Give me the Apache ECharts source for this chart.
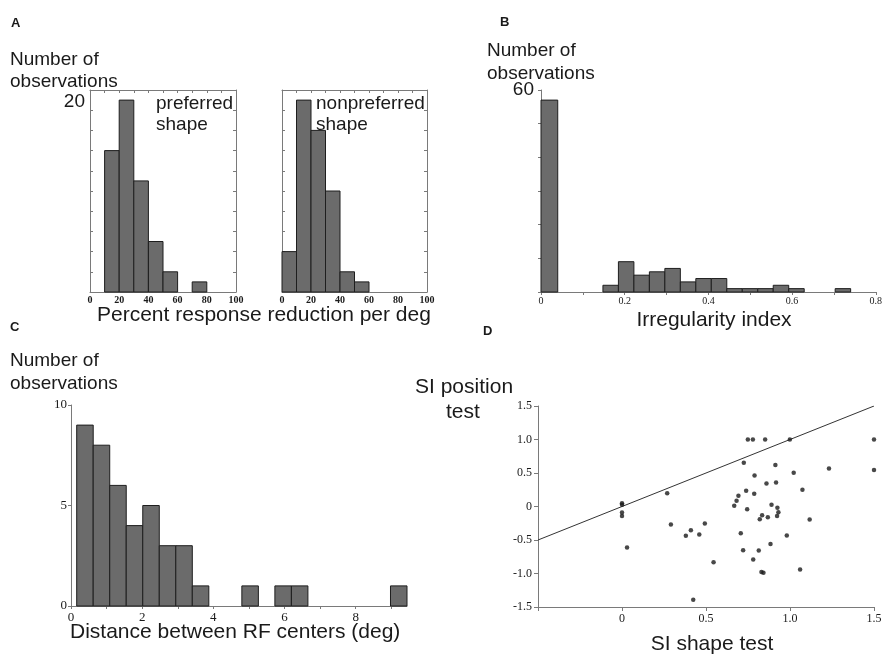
<!DOCTYPE html>
<html>
<head>
<meta charset="utf-8">
<script src="https://cdn.jsdelivr.net/npm/echarts@6/dist/echarts.min.js"></script>
<style>
  html, body { margin: 0; padding: 0; background: #ffffff; }
  #chart { width: 885px; height: 655px; }
</style>
</head>
<body>
<div id="chart"></div>
<script>
// ---- A: percent response reduction per degree (bins of 10 %) ----
const pctEdges = [0, 10, 20, 30, 40, 50, 60, 70, 80, 90, 100];
const preferredCounts = [0, 14, 19, 11, 5, 2, 0, 1, 0, 0];
const nonpreferredCounts = [4, 19, 16, 10, 2, 1, 0, 0, 0, 0];
const pctTickLabels = ['0', '20', '40', '60', '80', '100'];

// ---- B: irregularity index ----
const irregEdges = [0, 0.04, 0.074, 0.111, 0.148, 0.185, 0.222, 0.259, 0.296, 0.333, 0.370,
                    0.407, 0.444, 0.481, 0.518, 0.555, 0.592, 0.629, 0.666, 0.703, 0.740];
const irregCounts = [57, 0, 0, 0, 2, 9, 5, 6, 7, 3, 4, 4, 1, 1, 1, 2, 1, 0, 0, 1];

// ---- C: distance between RF centers (deg) ----
const distEdges = [0.16, 0.624, 1.088, 1.552, 2.016, 2.48, 2.944, 3.408, 3.872, 4.336, 4.8,
                   5.264, 5.728, 6.192, 6.656, 7.12, 7.584, 8.048, 8.512, 8.976, 9.44];
const distCounts = [9, 8, 6, 4, 5, 3, 3, 1, 0, 0, 1, 0, 1, 1, 0, 0, 0, 0, 0, 1];

// ---- D: SI shape test vs SI position test ----
const shapeTest = [0.749, 0.779, 0.852, 0.999, 1.5, 0.725, 0.913, 1.232, 1.5, 1.022,
                   0.789, 0.860, 0.917, 1.074, 0.739, 0.787, 0.269, 0.693, 0.682, 0.668,
                   0.745, 0.890, 0.925, 0.931, 0.923, 0.834, 0.820, 0.868, 1.117, 0,
                   0, 0, 0, 0.030, 0.291, 0.41, 0.38, 0.46, 0.493, 0.545,
                   0.424, 0.707, 0.721, 0.814, 0.884, 0.781, 0.981, 0.830, 0.842, 1.060];
const positionTest = [1, 1, 1, 1, 1, 0.653, 0.618, 0.568, 0.543, 0.503,
                      0.463, 0.344, 0.359, 0.249, 0.234, 0.189, 0.199, 0.159, 0.085, 0.01,
                      -0.04, 0.025, -0.02, -0.085, -0.14, -0.13, -0.19, -0.16, -0.194, 0.05,
                      0.025, -0.09, -0.14, -0.613, -0.269, -0.354, -0.438, -0.419, -0.254, -0.832,
                      -1.39, -0.399, -0.653, -0.658, -0.558, -0.792, -0.433, -0.977, -0.987, -0.942];
const identityLine = [[-0.5, -0.5], [1.5, 1.5]];

const SANS = 'Liberation Sans, Arial, sans-serif';
const SERIF = 'Liberation Serif, Times New Roman, serif';
const AXIS_COLOR = '#7a7a7a';
const TEXT_COLOR = '#1a1a1a';
const BAR_FILL = '#6b6b6b';
const BAR_EDGE = '#1e1e1e';

function histData(edges, counts) {
  return counts.map((n, i) => [edges[i], edges[i + 1], n]);
}

function histItem(params, api) {
  const n = api.value(2);
  if (!n) return null;
  const p0 = api.coord([api.value(0), n]);
  const p1 = api.coord([api.value(1), 0]);
  return {
    type: 'rect',
    shape: { x: p0[0], y: p0[1], width: p1[0] - p0[0], height: p1[1] - p0[1] },
    style: { fill: BAR_FILL, stroke: BAR_EDGE, lineWidth: 1 }
  };
}

function histSeries(axisIdx, edges, counts) {
  return {
    type: 'custom',
    xAxisIndex: axisIdx,
    yAxisIndex: axisIdx,
    renderItem: histItem,
    encode: { x: [0, 1], y: 2 },
    data: histData(edges, counts),
    silent: true,
    z: 2
  };
}

// axis lines stay on the grid edge, never on the other axis's zero
const line = { show: true, onZero: false, lineStyle: { color: AXIS_COLOR, width: 1 } };
const noSplit = { show: false };

function boxAxesA(gridIndex, showTopLabel) {
  const x = [
    {
      type: 'value', gridIndex, position: 'bottom', min: 0, max: 100, interval: 20,
      axisLine: line, axisTick: { show: false }, splitLine: noSplit,
      axisLabel: {
        margin: 3, fontFamily: SERIF, fontWeight: 'bold', fontSize: 10, color: TEXT_COLOR,
        formatter: v => pctTickLabels[Math.round(v / 20)]
      }
    },
    {
      type: 'value', gridIndex, position: 'top', min: 0, max: 100, interval: 10,
      axisLine: line, axisTick: { show: true, inside: true, length: 3, lineStyle: { color: AXIS_COLOR } },
      axisLabel: { show: false }, splitLine: noSplit
    }
  ];
  const y = [
    {
      type: 'value', gridIndex, position: 'left', min: 0, max: 20, interval: 2,
      axisLine: line, axisTick: { show: true, inside: true, length: 3, lineStyle: { color: AXIS_COLOR } },
      splitLine: noSplit,
      axisLabel: {
        show: showTopLabel, margin: 5, fontFamily: SANS, fontSize: 19, color: TEXT_COLOR,
        verticalAlign: 'top', padding: [2, 0, 0, 0],
        formatter: v => (v === 20 ? '20' : '')
      }
    },
    {
      type: 'value', gridIndex, position: 'right', min: 0, max: 20, interval: 2,
      axisLine: line, axisTick: { show: true, inside: true, length: 3, lineStyle: { color: AXIS_COLOR } },
      axisLabel: { show: false }, splitLine: noSplit
    }
  ];
  return { x, y };
}

const a1 = boxAxesA(0, true);
const a2 = boxAxesA(1, false);

const xAxes = [
  a1.x[0],                 // 0
  a2.x[0],                 // 1
  {                        // 2: B
    type: 'value', gridIndex: 2, min: 0, max: 0.8, interval: 0.1,
    axisLine: line, axisTick: { show: true, length: 3, lineStyle: { color: AXIS_COLOR } },
    splitLine: noSplit,
    axisLabel: {
      margin: 4, fontFamily: SERIF, fontSize: 10, color: TEXT_COLOR,
      formatter: v => {
        const k = Math.round(v * 10);
        if (k % 2 !== 0) return '';
        return k === 0 ? '0' : (k / 10).toFixed(1);
      }
    }
  },
  {                        // 3: C
    type: 'value', gridIndex: 3, min: 0, max: 9.44, interval: 1,
    axisLine: line, splitLine: noSplit,
    axisTick: { show: true, length: 3, customValues: [0, 1, 2, 3, 4, 5, 6, 7, 8, 9], lineStyle: { color: AXIS_COLOR } },
    axisLabel: {
      margin: 5, fontFamily: SERIF, fontSize: 13, color: TEXT_COLOR,
      customValues: [0, 2, 4, 6, 8],
      formatter: v => String(v)
    }
  },
  {                        // 4: D
    type: 'value', gridIndex: 4, min: -0.5, max: 1.5, interval: 0.5,
    axisLine: line, splitLine: noSplit,
    axisTick: { show: true, length: 4, lineStyle: { color: AXIS_COLOR } },
    axisLabel: {
      margin: 6, fontFamily: SERIF, fontSize: 12, color: TEXT_COLOR,
      formatter: v => (v < 0 ? '' : (v === 0 ? '0' : v.toFixed(1)))
    }
  },
  a1.x[1],                 // 5
  a2.x[1]                  // 6
];

const yAxes = [
  a1.y[0],                 // 0
  a2.y[0],                 // 1
  {                        // 2: B
    type: 'value', gridIndex: 2, min: 0, max: 60, interval: 10,
    axisLine: line, splitLine: noSplit,
    axisTick: { show: true, length: 3, lineStyle: { color: AXIS_COLOR } },
    axisLabel: {
      margin: 7, fontFamily: SANS, fontSize: 19, color: TEXT_COLOR,
      formatter: v => (v === 60 ? '60' : '')
    }
  },
  {                        // 3: C
    type: 'value', gridIndex: 3, min: 0, max: 10, interval: 5,
    axisLine: line, splitLine: noSplit,
    axisTick: { show: true, length: 3, lineStyle: { color: AXIS_COLOR } },
    axisLabel: { margin: 4, fontFamily: SERIF, fontSize: 13, color: TEXT_COLOR }
  },
  {                        // 4: D
    type: 'value', gridIndex: 4, min: -1.5, max: 1.5, interval: 0.5,
    axisLine: line, splitLine: noSplit,
    axisTick: { show: true, length: 4, lineStyle: { color: AXIS_COLOR } },
    axisLabel: {
      margin: 6, fontFamily: SERIF, fontSize: 12, color: TEXT_COLOR,
      formatter: v => (v === 0 ? '0' : v.toFixed(1))
    }
  },
  a1.y[1],                 // 5
  a2.y[1]                  // 6
];

function label(text, x, y, size) {
  return {
    type: 'text', x, y, silent: true,
    style: {
      text, fill: TEXT_COLOR, fontFamily: SANS, fontSize: size,
      verticalAlign: 'middle', align: 'left'
    }
  };
}
function centered(text, x, y, size) {
  const t = label(text, x, y, size);
  t.style.align = 'center';
  return t;
}
function bold(text, x, y) {
  const t = label(text, x, y, 13);
  t.style.fontWeight = 'bold';
  return t;
}

const graphics = [
  bold('A', 11, 23),
  bold('B', 500, 22),
  bold('C', 10, 327),
  bold('D', 483, 331),

  label('Number of', 10, 60, 19),
  label('observations', 10, 82, 19),
  label('preferred', 156, 104, 19),
  label('shape', 156, 125, 19),
  label('nonpreferred', 316, 104, 19),
  label('shape', 316, 125, 19),
  label('Percent response reduction per deg', 97, 315, 21),

  label('Number of', 487, 51, 19),
  label('observations', 487, 74, 19),
  centered('Irregularity index', 714, 320, 21),

  label('Number of', 10, 361, 19),
  label('observations', 10, 384, 19),
  label('Distance between RF centers (deg)', 70, 632, 21),

  label('SI position', 415, 387, 21),
  label('test', 446, 412, 21),
  centered('SI shape test', 712, 644, 21)
];

const option = {
  backgroundColor: '#ffffff',
  animation: false,
  grid: [
    { left: 90, top: 90, width: 146, height: 202 },
    { left: 282, top: 90, width: 145, height: 202 },
    { left: 541, top: 90, width: 337, height: 202 },
    { left: 71, top: 405, width: 336, height: 201 },
    { left: 538, top: 406, width: 336, height: 201 }
  ],
  xAxis: xAxes,
  yAxis: yAxes,
  series: [
    histSeries(0, pctEdges, preferredCounts),
    histSeries(1, pctEdges, nonpreferredCounts),
    histSeries(2, irregEdges, irregCounts),
    histSeries(3, distEdges, distCounts),
    {
      type: 'line', xAxisIndex: 4, yAxisIndex: 4,
      data: identityLine, showSymbol: false, silent: true,
      lineStyle: { color: '#333333', width: 1 }, z: 1
    },
    {
      type: 'scatter', xAxisIndex: 4, yAxisIndex: 4,
      data: shapeTest.map((s, i) => [s, positionTest[i]]),
      symbol: 'circle', symbolSize: 4.5, silent: true,
      itemStyle: { color: '#1a1a1a' }, z: 3
    }
  ],
  graphic: graphics
};

const chart = echarts.init(document.getElementById('chart'), null, { renderer: 'canvas' });
chart.setOption(option);
</script>
</body>
</html>
